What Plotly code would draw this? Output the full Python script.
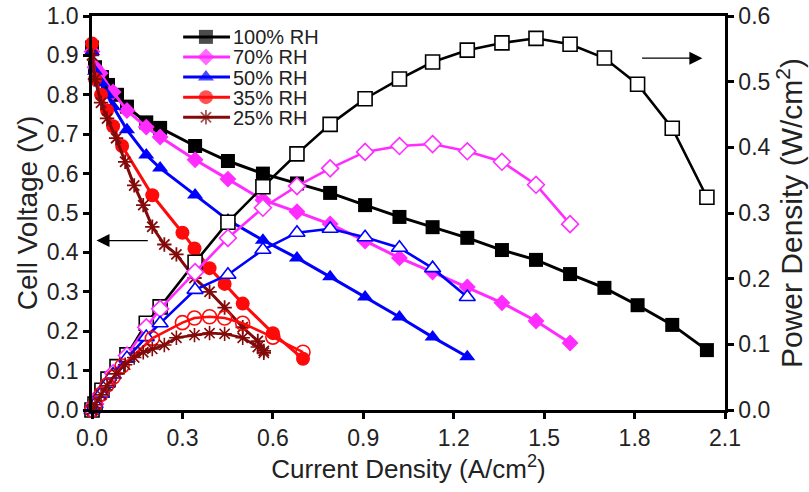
import plotly.graph_objects as go

# current density (A/cm2), cell voltage (V), power density (W/cm2) per humidity
rh_labels = ['100% RH', '70% RH', '50% RH', '35% RH', '25% RH']

i_100 = [0, 0.01, 0.033, 0.053, 0.083, 0.116, 0.18, 0.226, 0.342, 0.451, 0.567, 0.68,
         0.79, 0.906, 1.02, 1.13, 1.245, 1.36, 1.473, 1.586, 1.70, 1.81, 1.925, 2.04]
v_100 = [0.92, 0.87, 0.845, 0.825, 0.80, 0.77, 0.73, 0.716, 0.67, 0.632, 0.60, 0.575,
         0.551, 0.52, 0.49, 0.464, 0.437, 0.406, 0.381, 0.345, 0.31, 0.266, 0.216, 0.152]
p_100 = [0, 0.009, 0.03, 0.047, 0.066, 0.084, 0.132, 0.157, 0.225, 0.286, 0.34, 0.39,
         0.435, 0.474, 0.504, 0.53, 0.548, 0.559, 0.566, 0.557, 0.536, 0.496, 0.429, 0.324]

i_70 = [0, 0.01, 0.027, 0.07, 0.116, 0.18, 0.226, 0.342, 0.451, 0.567, 0.68, 0.79,
        0.906, 1.02, 1.13, 1.245, 1.36, 1.473, 1.586]
v_70 = [0.91, 0.87, 0.855, 0.807, 0.76, 0.718, 0.693, 0.635, 0.586, 0.533, 0.503, 0.472,
        0.429, 0.386, 0.35, 0.312, 0.272, 0.226, 0.17]
p_70 = [0, 0.009, 0.023, 0.056, 0.083, 0.126, 0.154, 0.21, 0.262, 0.308, 0.341, 0.368,
        0.393, 0.402, 0.405, 0.394, 0.378, 0.343, 0.283]

i_50 = [0, 0.01, 0.03, 0.05, 0.07, 0.116, 0.18, 0.226, 0.342, 0.451, 0.567, 0.68,
        0.79, 0.906, 1.02, 1.13, 1.245]
v_50 = [0.91, 0.86, 0.83, 0.80, 0.77, 0.711, 0.647, 0.614, 0.546, 0.482, 0.431, 0.386,
        0.338, 0.287, 0.236, 0.185, 0.135]
p_50 = [0, 0.009, 0.025, 0.04, 0.054, 0.079, 0.111, 0.132, 0.183, 0.206, 0.244, 0.27,
        0.276, 0.263, 0.247, 0.216, 0.172]

i_35 = [0, 0.01, 0.03, 0.05, 0.07, 0.1, 0.2, 0.3, 0.34, 0.39, 0.44, 0.5, 0.6, 0.7]
v_35 = [0.93, 0.84, 0.80, 0.76, 0.72, 0.67, 0.545, 0.45, 0.41, 0.36, 0.32, 0.27, 0.195, 0.13]
p_35 = [0, 0.008, 0.024, 0.038, 0.05, 0.067, 0.109, 0.133, 0.14, 0.142, 0.14, 0.132, 0.111, 0.088]

i_25 = [0, 0.01, 0.03, 0.05, 0.08, 0.11, 0.14, 0.17, 0.2, 0.24, 0.28, 0.34, 0.39, 0.44,
        0.5, 0.55, 0.57]
v_25 = [0.90, 0.84, 0.78, 0.74, 0.69, 0.63, 0.57, 0.52, 0.465, 0.42, 0.395, 0.335, 0.30,
        0.26, 0.21, 0.175, 0.15]
p_25 = [0, 0.008, 0.023, 0.037, 0.055, 0.069, 0.08, 0.088, 0.093, 0.099, 0.11, 0.114,
        0.117, 0.116, 0.11, 0.096, 0.087]

x_ticks = [0.0, 0.3, 0.6, 0.9, 1.2, 1.5, 1.8, 2.1]

FONT = 'Arial, Liberation Sans, sans-serif'
TXT = '#222222'

series = [
    (i_100, v_100, p_100, '#000000', 'square', 'square', 14),
    (i_70, v_70, p_70, '#ff2bff', 'diamond', 'diamond', 13),
    (i_50, v_50, p_50, '#0000ff', 'triangle-up', 'triangle-up', 14),
    (i_35, v_35, p_35, '#ff0a0a', 'circle', 'circle-open', 14),
    (i_25, v_25, p_25, '#820a0a', 'asterisk-open', 'asterisk-open', 12),
]


def filled_marker(sym, col, sz):
    if sym.endswith('-open'):
        return dict(symbol=sym, size=sz, color=col, line=dict(color=col, width=1.8))
    return dict(symbol=sym, size=sz, color=col, line=dict(width=0))


fig = go.Figure()

# power density curves (open markers) on the right axis
for (x, v, p, col, sym_v, sym_p, sz), name in zip(series, rh_labels):
    if sym_p.endswith('-open'):
        mk = dict(symbol=sym_p, size=sz, color=col, line=dict(color=col, width=1.6))
    else:
        mk = dict(symbol=sym_p, size=sz, color='white', line=dict(color=col, width=1.6))
    fig.add_trace(go.Scatter(
        x=x, y=p, yaxis='y2', mode='lines+markers', showlegend=False,
        line=dict(color=col, width=2.6), marker=mk, cliponaxis=False
    ))

# cell voltage curves (filled markers) on the left axis
for (x, v, p, col, sym_v, sym_p, sz), name in zip(series, rh_labels):
    fig.add_trace(go.Scatter(
        x=x, y=v, mode='lines+markers', showlegend=False,
        line=dict(color=col, width=3), marker=filled_marker(sym_v, col, sz), cliponaxis=False
    ))

# hand-made legend on a hidden 0..1 axis pair so the rows can sit close together
leg_x = [0.144, 0.180, 0.218]
leg_y = [0.947, 0.896, 0.845, 0.794, 0.743]
annotations = []
for (x, v, p, col, sym_v, sym_p, sz), name, ly in zip(series, rh_labels, leg_y):
    mk = filled_marker(sym_v, col, sz)
    mk['size'] = [0, sz, 0]
    fig.add_trace(go.Scatter(
        x=leg_x, y=[ly] * 3, xaxis='x2', yaxis='y3', mode='lines+markers', showlegend=False,
        line=dict(color=col, width=3), marker=mk, hoverinfo='skip'
    ))
    annotations.append(dict(
        x=0.221, y=ly, xref='paper', yref='paper', xanchor='left', yanchor='middle',
        height=17, valign='middle', borderpad=0,
        text=name, showarrow=False, font=dict(family=FONT, size=20, color=TXT)
    ))

annotations += [
    dict(x=0.015, y=0.43, ax=0.19, ay=0.43, xref='x', yref='y', axref='x', ayref='y',
         text='', showarrow=True, arrowhead=2, arrowsize=2, arrowwidth=1.3, arrowcolor='black'),
    dict(x=2.025, y=0.893, ax=1.82, ay=0.893, xref='x', yref='y', axref='x', ayref='y',
         text='', showarrow=True, arrowhead=2, arrowsize=2, arrowwidth=1.3, arrowcolor='black'),
]

axis_common = dict(
    showgrid=False, zeroline=False, showline=True, linecolor='black', linewidth=2.5,
    ticks='outside', ticklen=6, tickwidth=2.5, tickcolor='black', automargin=False,
    tickfont=dict(family=FONT, size=23, color=TXT),
)

fig.update_layout(
    width=809, height=492,
    margin=dict(l=92, r=84, t=16, b=82),
    paper_bgcolor='white', plot_bgcolor='white',
    font=dict(family=FONT, color=TXT),
    xaxis=dict(
        axis_common, range=[0, 2.1], tickvals=x_ticks, tickformat='.1f', mirror=True,
        title=dict(text='Current Density (A/cm<sup>2</sup>)', font=dict(family=FONT, size=26), standoff=8),
    ),
    yaxis=dict(
        axis_common, range=[0, 1.0], dtick=0.1, tickformat='.1f',
        title=dict(text='Cell Voltage (V)', font=dict(family=FONT, size=28), standoff=1),
    ),
    yaxis2=dict(
        axis_common, range=[0, 0.6], dtick=0.1, tickformat='.1f', overlaying='y', side='right',
        title=dict(text='Power Density (W/cm<sup>2</sup>)', font=dict(family=FONT, size=30), standoff=6),
    ),
    xaxis2=dict(range=[0, 1], visible=False, overlaying='x', fixedrange=True),
    yaxis3=dict(range=[0, 1], visible=False, overlaying='y', fixedrange=True),
    showlegend=False,
    annotations=annotations,
)

# the page's default 8px body margin would push the figure off the right edge
fig.write_html("out.html", config={'displayModeBar': False},
               post_script="document.body.style.margin='0px';")
